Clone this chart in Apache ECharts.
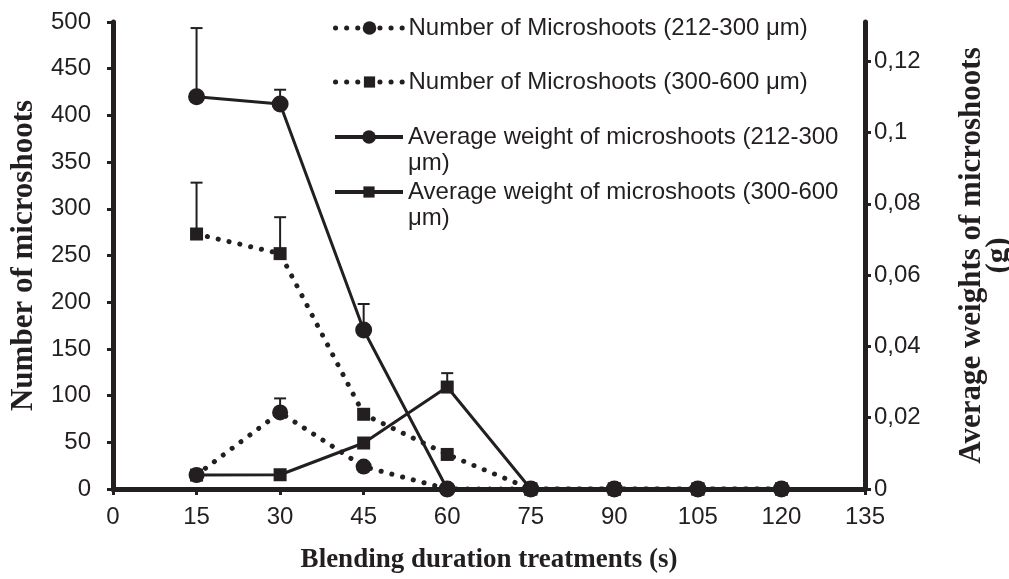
<!DOCTYPE html>
<html>
<head>
<meta charset="utf-8">
<script src="https://cdn.jsdelivr.net/npm/echarts@6/dist/echarts.min.js"></script>
<style>
  html, body { margin: 0; padding: 0; background: #fff; }
  #main { width: 1009px; height: 579px; }
</style>
</head>
<body>
<div id="main"></div>
<script>
// blending duration (s)
var durations = [15, 30, 45, 60, 75, 90, 105, 120];
// number of microshoots
var num212 = [15, 82, 24, 0, 0, 0, 0, 0];
var num212Err = [0, 15, 0, 0, 0, 0, 0, 0];
var num300 = [273, 252, 80, 37, 0, 0, 0, 0];
var num300Err = [55, 39, 5, 0, 0, 0, 0, 0];
// average weight (g)
var wt212 = [0.110, 0.108, 0.0446, 0, 0, 0, 0, 0];
var wt212Err = [0.0193, 0.004, 0.0073, 0, 0, 0, 0, 0];
var wt300 = [0.0039, 0.004, 0.0129, 0.0286, 0, 0, 0, 0];
var wt300Err = [0, 0, 0, 0.0039, 0, 0, 0, 0];

var names = [
  'Number of Microshoots (212-300 μm)',
  'Number of Microshoots (300-600 μm)',
  'Average weight of microshoots (212-300 μm)',
  'Average weight of microshoots (300-600 μm)'
];

var ink = '#231f20';
var dotted = { color: ink, width: 5, type: [0.1, 11], cap: 'round' };
var solid = { color: ink, width: 3 };

function pairs(vals) {
  return durations.map(function (x, i) { return [x, vals[i]]; });
}
function errData(vals, errs) {
  return durations.map(function (x, i) { return [x, vals[i], errs[i]]; });
}
function errRender(params, api) {
  var e = api.value(2);
  if (!e) return;
  var p0 = api.coord([api.value(0), api.value(1)]);
  var p1 = api.coord([api.value(0), api.value(1) + e]);
  var st = { stroke: ink, lineWidth: 2 };
  return {
    type: 'group',
    children: [
      { type: 'line', shape: { x1: p0[0], y1: p0[1], x2: p1[0], y2: p1[1] }, style: st },
      { type: 'line', shape: { x1: p1[0] - 6, y1: p1[1], x2: p1[0] + 6, y2: p1[1] }, style: st }
    ]
  };
}
function errSeries(vals, errs, axis) {
  return {
    type: 'custom', yAxisIndex: axis, z: 1, silent: true,
    renderItem: errRender, data: errData(vals, errs)
  };
}

// one legend per entry; the wrapped ones get a blank first line so the
// icon sits level with the first text line
function legendFor(name, top, iconH, twoLine, lineW) {
  return {
    data: [name], left: 333, top: top, padding: 0,
    itemWidth: 68, itemHeight: iconH,
    lineStyle: { width: lineW },
    formatter: function (n) {
      return twoLine ? '\n' + n.replace(' μm)', '\nμm)') : n;
    },
    textStyle: { fontFamily: 'Liberation Sans', fontSize: 24, color: ink, lineHeight: 26 }
  };
}

var chart = echarts.init(document.getElementById('main'));
var tickFont = { fontFamily: 'Liberation Sans', fontSize: 24, color: ink };
var titleFont = { fontFamily: 'Liberation Serif', fontWeight: 'bold', color: ink };

chart.setOption({
  animation: false,
  grid: { left: 113, right: 144, top: 22, bottom: 90, outerBoundsMode: 'none' },
  legend: [
    legendFor(names[0], 28 - 13, 17, false, 5),
    legendFor(names[1], 82 - 13, 14, false, 5),
    legendFor(names[2], 137 - 39, 17, true, 4),
    legendFor(names[3], 192 - 39, 14, true, 4)
  ],
  xAxis: {
    type: 'value', min: 0, max: 135, interval: 15,
    name: 'Blending duration treatments (s)', nameLocation: 'middle', nameGap: 56,
    nameTextStyle: Object.assign({ fontSize: 27, lineHeight: 30 }, titleFont),
    axisLine: { lineStyle: { color: ink, width: 5 } },
    axisTick: { length: 6, lineStyle: { color: ink, width: 3 } },
    axisLabel: Object.assign({ margin: 16 }, tickFont),
    splitLine: { show: false }
  },
  yAxis: [
    {
      type: 'value', min: 0, max: 500, interval: 50,
      name: 'Number of microshoots', nameLocation: 'middle', nameGap: 74, nameRotate: 90,
      nameTextStyle: Object.assign({ fontSize: 31, lineHeight: 31 }, titleFont),
      axisLine: { show: true, lineStyle: { color: ink, width: 5 } },
      axisTick: { show: true, length: 6, lineStyle: { color: ink, width: 3 } },
      axisLabel: Object.assign({ margin: 22 }, tickFont),
      splitLine: { show: false }
    },
    {
      type: 'value', min: 0, max: 0.131, interval: 0.02, position: 'right',
      name: 'Average weights of microshoots\n(g)', nameLocation: 'middle', nameGap: 93, nameRotate: 90,
      nameTextStyle: Object.assign({ fontSize: 31, lineHeight: 27 }, titleFont),
      axisLine: { show: true, lineStyle: { color: ink, width: 5 } },
      axisTick: { show: true, length: 6, lineStyle: { color: ink, width: 3 } },
      axisLabel: Object.assign({
        margin: 9, showMaxLabel: false,
        formatter: function (v) { return String(+v.toFixed(2)).replace('.', ','); }
      }, tickFont),
      splitLine: { show: false }
    }
  ],
  series: [
    errSeries(num212, num212Err, 0),
    errSeries(num300, num300Err, 0),
    errSeries(wt212, wt212Err, 1),
    errSeries(wt300, wt300Err, 1),
    {
      name: names[0], type: 'line', yAxisIndex: 0, data: pairs(num212),
      symbol: 'circle', symbolSize: 16, lineStyle: dotted, itemStyle: { color: ink }, z: 2
    },
    {
      name: names[1], type: 'line', yAxisIndex: 0, data: pairs(num300),
      symbol: 'rect', symbolSize: 13, lineStyle: dotted, itemStyle: { color: ink }, z: 2
    },
    {
      name: names[2], type: 'line', yAxisIndex: 1, data: pairs(wt212),
      symbol: 'circle', symbolSize: 17, lineStyle: solid, itemStyle: { color: ink }, z: 3
    },
    {
      name: names[3], type: 'line', yAxisIndex: 1, data: pairs(wt300),
      symbol: 'rect', symbolSize: 13, lineStyle: solid, itemStyle: { color: ink }, z: 3
    }
  ]
});
</script>
</body>
</html>
